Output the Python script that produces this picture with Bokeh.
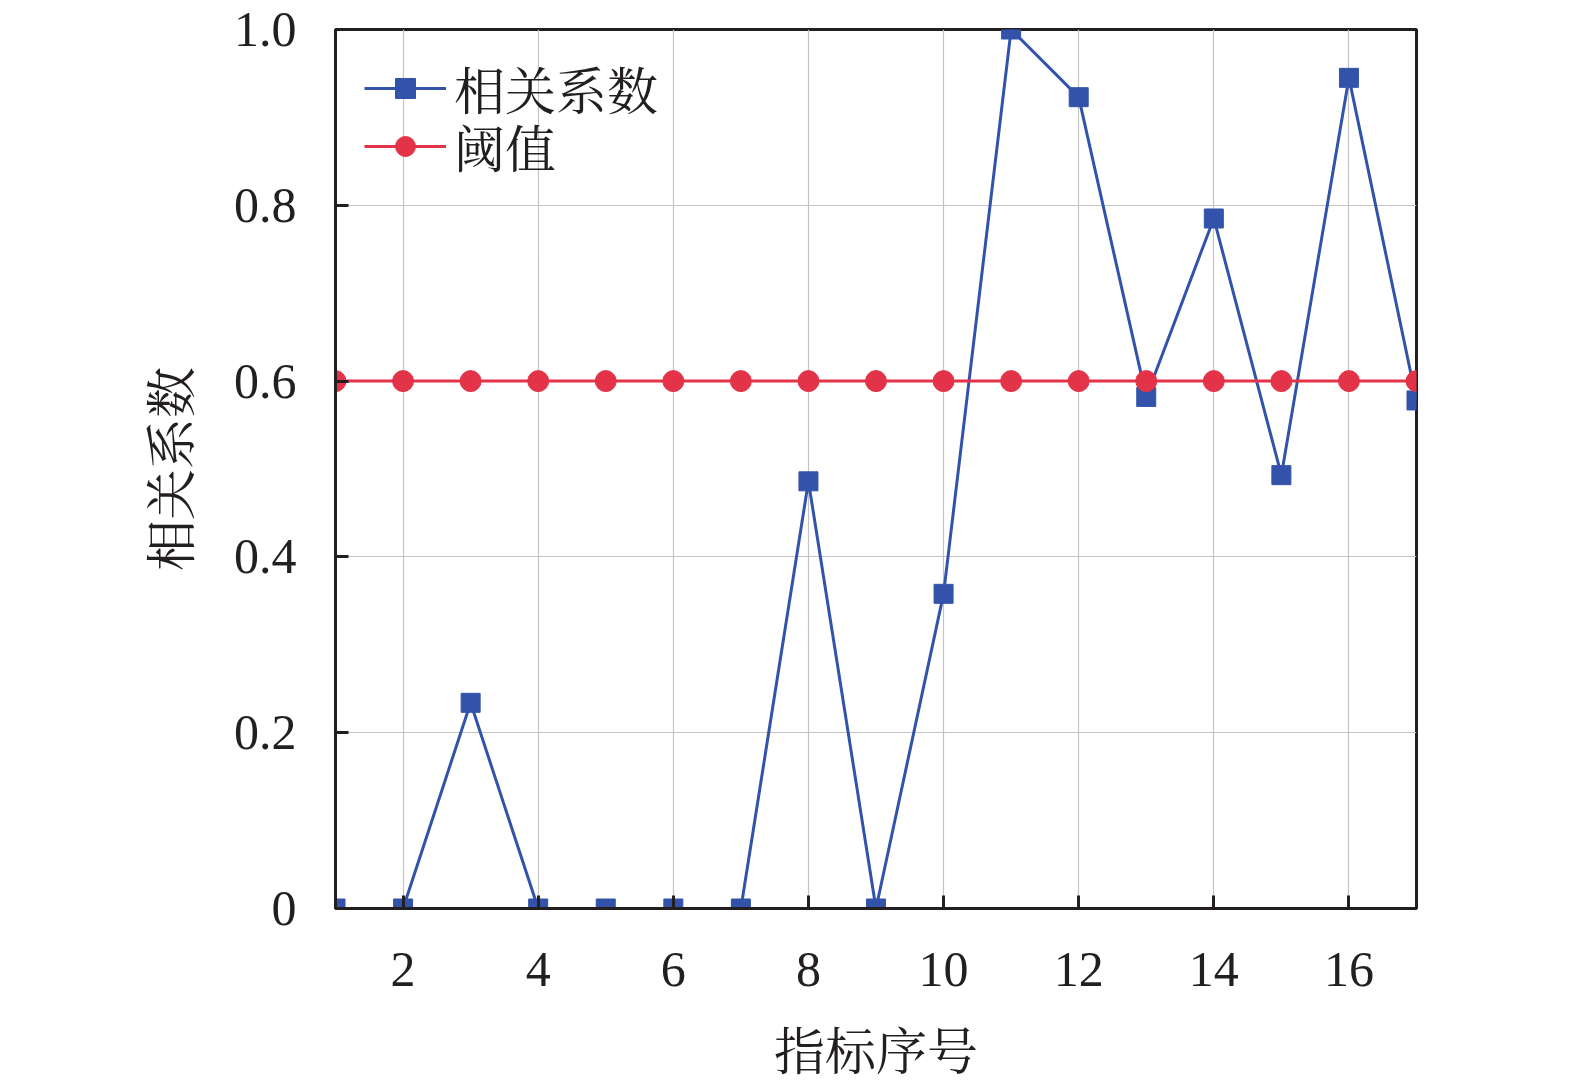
from bokeh.plotting import figure
from bokeh.models import FixedTicker, CustomJSTickFormatter, Legend, LegendItem, Range1d
from bokeh.embed import file_html
from bokeh.resources import INLINE

# data
index = list(range(1, 18))
corr = [0.0, 0.0, 0.234, 0.0, 0.0, 0.0, 0.0, 0.486, 0.0, 0.358, 1.0, 0.923, 0.582, 0.785, 0.493, 0.945, 0.578]
threshold = [0.6] * 17
x_ticks = [2, 4, 6, 8, 10, 12, 14, 16]
y_ticks = [0, 0.2, 0.4, 0.6, 0.8, 1.0]
series_names = ["相关系数", "阈值"]

BLUE = "#3353AB"
RED = "#E33348"
SERIF = "Liberation Serif"
CJK = "'Noto Serif CJK SC', 'Noto Sans CJK SC Light', 'Noto Sans CJK SC'"

p = figure(output_backend="svg", toolbar_location=None,
           frame_width=1081, frame_height=879,
           min_border_left=335, min_border_top=29, min_border_right=127, min_border_bottom=147,
           x_range=Range1d(1, 17), y_range=Range1d(0, 1.0))

p.outline_line_color = "#231F20"
p.outline_line_width = 3
p.outline_line_alpha = 1.0
p.background_fill_color = "white"
p.border_fill_color = "white"

# grid
p.xgrid.ticker = FixedTicker(ticks=x_ticks)
p.ygrid.ticker = FixedTicker(ticks=[0.2, 0.4, 0.6, 0.8])
for g in (p.xgrid, p.ygrid):
    g.grid_line_color = "#C4C4C4"
    g.grid_line_width = 1.2

# axes
p.xaxis.ticker = FixedTicker(ticks=x_ticks)
p.yaxis.ticker = FixedTicker(ticks=y_ticks)
p.yaxis.formatter = CustomJSTickFormatter(code="return tick == 0 ? '0' : tick.toFixed(1);")
for ax in (p.xaxis, p.yaxis):
    ax.axis_line_color = "#231F20"
    ax.axis_line_width = 3
    ax.major_tick_in = 13
    ax.major_tick_out = 0
    ax.major_tick_line_width = 3
    ax.major_tick_line_color = "#231F20"
    ax.minor_tick_line_color = None
    ax.major_label_text_font = SERIF
    ax.major_label_text_font_size = "50px"
    ax.major_label_text_color = "#231F20"
    ax.axis_label_text_font = CJK
    ax.axis_label_text_font_size = "51px"
    ax.axis_label_text_font_style = "normal"
    ax.axis_label_text_color = "#231F20"

p.xaxis.major_label_standoff = 44
p.yaxis.major_label_standoff = 39
p.xaxis.axis_label = "指标序号"
p.yaxis.axis_label = "相关系数"
p.xaxis.axis_label_standoff = 22
p.yaxis.axis_label_standoff = 26

# series
l1 = p.line(index, corr, line_color=BLUE, line_width=3)
m1 = p.scatter(index, corr, marker="square", size=19, fill_color=BLUE, line_color=BLUE)
l2 = p.line(index, threshold, line_color=RED, line_width=3)
m2 = p.scatter(index, threshold, marker="circle", size=21, fill_color=RED, line_color=RED)


def make_legend(label, renderers, loc):
    lg = Legend(items=[LegendItem(label=label, renderers=renderers)], location=loc)
    lg.label_text_font = CJK
    lg.label_text_font_size = "51px"
    lg.label_text_color = "#231F20"
    lg.glyph_width = 82
    lg.glyph_height = 50
    lg.label_height = 50
    lg.label_standoff = 8
    lg.spacing = 0
    lg.margin = 0
    lg.padding = 0
    lg.border_line_alpha = 0
    lg.background_fill_alpha = 0
    return lg


p.add_layout(make_legend(series_names[0], [l1, m1], (29, 783)))
p.add_layout(make_legend(series_names[1], [l2, m2], (29, 725)))

open("out.html", "w").write(file_html(p, INLINE))
